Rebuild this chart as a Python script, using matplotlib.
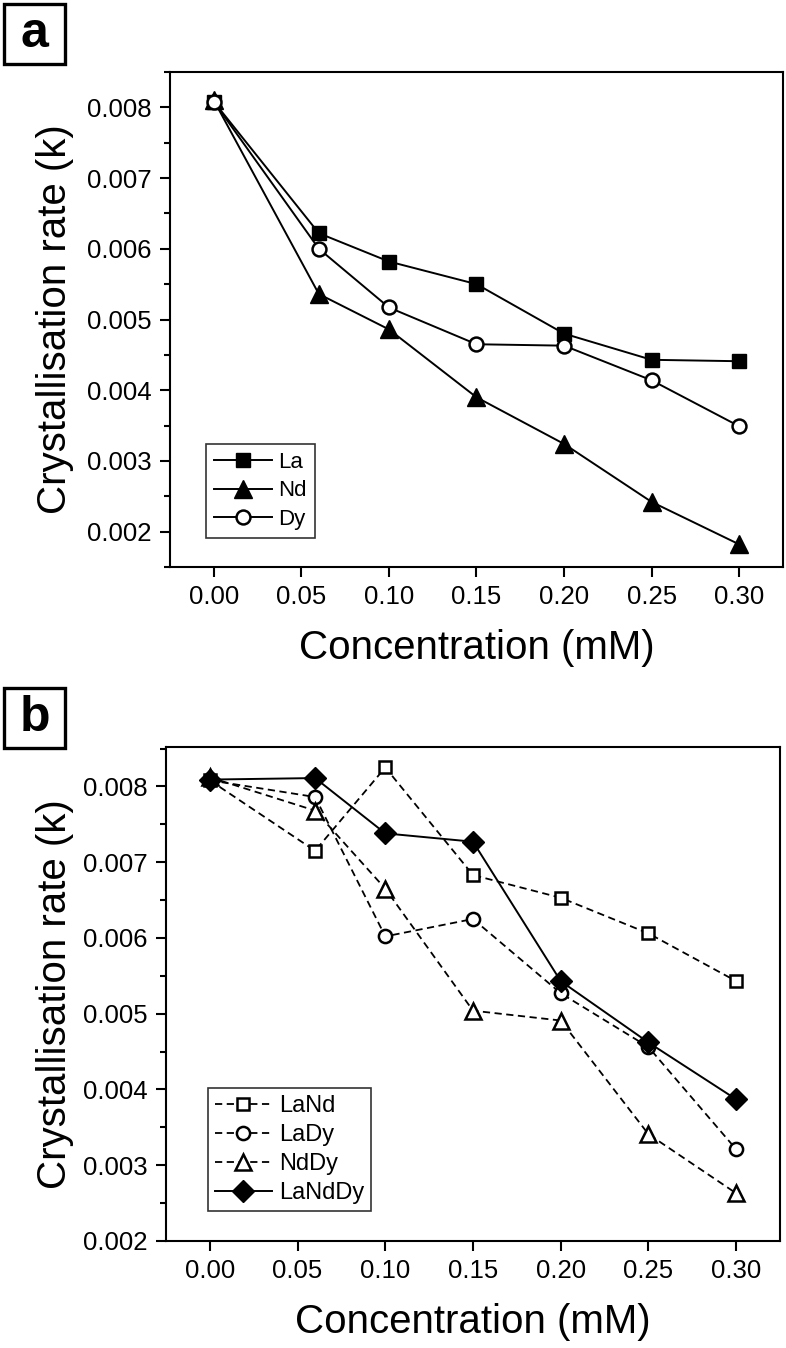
import matplotlib
matplotlib.use("Agg")
import matplotlib.pyplot as plt
from matplotlib.patches import Rectangle
from matplotlib.ticker import MultipleLocator, FormatStrFormatter

plt.rcParams['font.family'] = ['Liberation Sans', 'DejaVu Sans']

# ---------------- data ----------------
conc = [0.0, 0.06, 0.10, 0.15, 0.20, 0.25, 0.30]

la = [0.00808, 0.00622, 0.00582, 0.00550, 0.00480, 0.00443, 0.00441]
nd = [0.00810, 0.00536, 0.00486, 0.00390, 0.00324, 0.00242, 0.00182]
dy = [0.00808, 0.00600, 0.00517, 0.00465, 0.00463, 0.00414, 0.00349]

land = [0.00808, 0.00715, 0.00825, 0.00683, 0.00653, 0.00606, 0.00543]
lady = [0.00808, 0.00786, 0.00602, 0.00625, 0.00527, 0.00456, 0.00321]
nddy = [0.00812, 0.00768, 0.00665, 0.00504, 0.00491, 0.00341, 0.00263]
landdy = [0.00809, 0.00811, 0.00738, 0.00727, 0.00543, 0.00462, 0.00387]

xticks = [0.00, 0.05, 0.10, 0.15, 0.20, 0.25, 0.30]

W, H = 786, 1348
fig = plt.figure(figsize=(W / 100, H / 100), dpi=100)


def px_axes(l, t, r, b):
    return fig.add_axes([l / W, 1 - b / H, (r - l) / W, (b - t) / H])


def style(ax, ylim, spine_x):
    ax.set_xlim(-0.025, 0.325)
    ax.set_ylim(*ylim)
    ax.set_xticks(xticks)
    ax.xaxis.set_major_formatter(FormatStrFormatter('%.2f'))
    ax.yaxis.set_major_locator(MultipleLocator(0.001))
    ax.yaxis.set_minor_locator(MultipleLocator(0.0005))
    ax.yaxis.set_major_formatter(FormatStrFormatter('%.3f'))
    ax.tick_params(axis='both', which='major', direction='out', length=7,
                   width=1.5, labelsize=18.5, pad=6)
    ax.tick_params(axis='y', which='minor', direction='out', length=4, width=1.5)
    for s in ax.spines.values():
        s.set_linewidth(1.5)
    ax.set_xlabel('Concentration (mM)', fontsize=29)
    ax.set_ylabel('Crystallisation rate (k)', fontsize=29)
    ax.xaxis.set_label_coords(0.5, -0.125)
    w_px = ax.get_position().width * W
    ax.yaxis.set_label_coords(-(spine_x - 74) / w_px, 0.5)


# ---------------- panel a ----------------
axa = px_axes(170, 72, 783, 567)
axa.plot(conc, la, '-s', color='black', lw=1.4, ms=10, mfc='black', label='La')
axa.plot(conc, nd, '-^', color='black', lw=1.4, ms=13, mfc='black', label='Nd')
axa.plot(conc, dy, '-o', color='black', lw=1.4, ms=10, mfc='white', mew=1.8, label='Dy')
style(axa, (0.0015, 0.0085), 170)
lega = axa.legend(loc='lower left', bbox_to_anchor=(206 / W, 1 - 538 / H),
                  bbox_transform=fig.transFigure, fontsize=16, frameon=True,
                  fancybox=False, edgecolor='black', handlelength=2.6,
                  handletextpad=0.3, borderpad=0.35, labelspacing=0.35,
                  borderaxespad=0)
lega.get_frame().set_linewidth(1.2)

# ---------------- panel b ----------------
axb = px_axes(166, 747, 780, 1241)
dash = (0, (4, 2.5))
axb.plot(conc, land, linestyle=dash, marker='s', color='black', lw=1.3, ms=8,
         mfc='white', mew=1.8, label='LaNd')
axb.plot(conc, lady, linestyle=dash, marker='o', color='black', lw=1.3, ms=9.5,
         mfc='white', mew=1.8, label='LaDy')
axb.plot(conc, nddy, linestyle=dash, marker='^', color='black', lw=1.3, ms=12,
         mfc='white', mew=1.8, label='NdDy')
axb.plot(conc, landdy, '-D', color='black', lw=1.4, ms=11, mfc='black',
         label='LaNdDy')
style(axb, (0.002, 0.00852), 166)
legb = axb.legend(loc='upper left', bbox_to_anchor=(208 / W, 1 - 1088 / H),
                  bbox_transform=fig.transFigure, fontsize=17, frameon=True,
                  fancybox=False, edgecolor='black', handlelength=2.4,
                  handletextpad=0.3, borderpad=0.3, labelspacing=0.3,
                  borderaxespad=0)
legb.get_frame().set_linewidth(1.2)

# ---------------- panel letters ----------------
for letter, (l, t, r, b) in (('a', (4, 4, 65, 64)), ('b', (4, 688, 65, 748))):
    fig.patches.append(Rectangle((l / W, 1 - b / H), (r - l) / W, (b - t) / H,
                                 transform=fig.transFigure, fc='white',
                                 ec='black', lw=2.4))
    fig.text((l + r) / 2 / W, 1 - (t + b) / 2 / H, letter, fontsize=36,
             fontweight='bold', ha='center', va='center')

fig.savefig('out.png', dpi=100)
